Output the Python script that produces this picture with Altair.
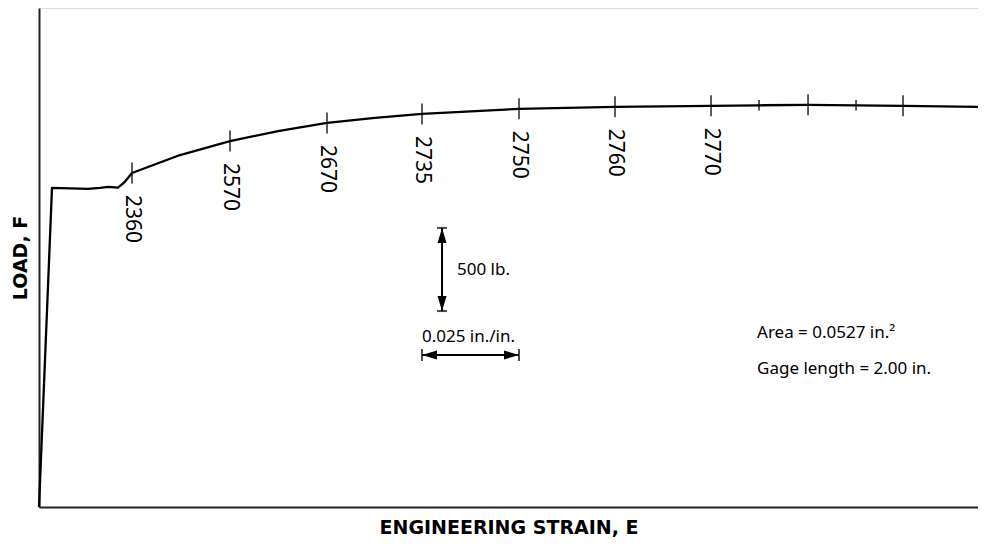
import altair as alt
import pandas as pd

# --- load / strain curve (strain in in./in., load in lb) ---
curve_strain = [0.0, 0.00335, 0.01263, 0.01572, 0.01778, 0.02036, 0.02191, 0.02397,
                0.03634, 0.04923, 0.06160, 0.07423, 0.08660, 0.09871, 0.12371, 0.14845,
                0.17320, 0.18557, 0.19820, 0.21057, 0.22268, 0.24201]
curve_load = [0, 1918, 1912, 1918, 1924, 1920, 1950, 2008,
              2116, 2200, 2260, 2309, 2339, 2363, 2394, 2406,
              2412, 2415, 2418, 2415, 2412, 2406]

# --- marks along the curve ---
tick_strain = [0.02397, 0.04923, 0.07423, 0.09871, 0.12371, 0.14845, 0.17320,
               0.18557, 0.19820, 0.21057, 0.22268]
tick_load = [2008, 2200, 2309, 2363, 2394, 2406, 2412, 2415, 2418, 2415, 2412]
tick_kind = ["major"] * 7 + ["minor", "major", "minor", "major"]
tick_labels = ["2360", "2570", "2670", "2735", "2750", "2760", "2770", "", "", "", ""]

# --- scale bars ---
load_bar_strain = [0.10387]
load_bar_low = [1178]
load_bar_high = [1678]          # 500 lb
strain_bar_load = [914]
strain_bar_low = [0.0987]
strain_bar_high = [0.1237]      # 0.025 in./in.

# --- annotations ---
note_text = ["500 lb.", "0.025 in./in.", "Area = 0.0527 in.²", "Gage length = 2.00 in."]
note_strain = [0.10773, 0.0987, 0.18505, 0.18505]
note_load = [1425, 1022, 1045, 830]

X_DOMAIN = [0, 0.242]
Y_DOMAIN = [0, 3000]

x_axis = alt.Axis(title="ENGINEERING STRAIN, E", ticks=False, labels=False, grid=False,
                  domainColor="#222222", domainWidth=2, titleFont="DejaVu Sans",
                  titleFontSize=19, titleFontWeight="bold", titleColor="black",
                  titlePadding=11)
y_axis = alt.Axis(title="LOAD, F", ticks=False, labels=False, grid=False,
                  domainColor="#222222", domainWidth=2, titleFont="DejaVu Sans",
                  titleFontSize=19, titleFontWeight="bold", titleColor="black",
                  titlePadding=9)


def X(f):
    return alt.X(f, type="quantitative", scale=alt.Scale(domain=X_DOMAIN, nice=False), axis=x_axis)


def Y(f):
    return alt.Y(f, type="quantitative", scale=alt.Scale(domain=Y_DOMAIN, nice=False), axis=y_axis)


curve_df = pd.DataFrame({"s": curve_strain, "l": curve_load, "i": range(len(curve_strain))})
tick_df = pd.DataFrame({"s": tick_strain, "l": tick_load, "kind": tick_kind, "lab": tick_labels})
lbar_df = pd.DataFrame({"s": load_bar_strain, "l0": load_bar_low, "l1": load_bar_high})
sbar_df = pd.DataFrame({"l": strain_bar_load, "s0": strain_bar_low, "s1": strain_bar_high})
note_df = pd.DataFrame({"t": note_text, "s": note_strain, "l": note_load})

curve = alt.Chart(curve_df).mark_line(color="black", strokeWidth=2.3, strokeJoin="round").encode(
    x=X("s"), y=Y("l"), order="i:Q")

major = alt.Chart(tick_df).transform_filter(alt.datum.kind == "major").mark_point(
    shape="M0,-1L0,1", size=441, color="black", strokeWidth=1.8, filled=False).encode(x=X("s"), y=Y("l"))
minor = alt.Chart(tick_df).transform_filter(alt.datum.kind == "minor").mark_point(
    shape="M0,-1L0,1", size=110, color="black", strokeWidth=1.8, filled=False).encode(x=X("s"), y=Y("l"))

labels = alt.Chart(tick_df).transform_filter(alt.datum.lab != "").mark_text(
    angle=90, align="left", baseline="middle", dx=22, font="Noto Sans", fontSize=21,
    color="black").encode(x=X("s"), y=Y("l"), text="lab:N")

lbar = alt.Chart(lbar_df).mark_rule(color="black", strokeWidth=2).encode(x=X("s"), y=Y("l0"), y2="l1")
lcap_lo = alt.Chart(lbar_df).mark_point(shape="M-1,0L1,0", size=100, color="black", strokeWidth=2).encode(
    x=X("s"), y=Y("l0"))
lcap_hi = alt.Chart(lbar_df).mark_point(shape="M-1,0L1,0", size=100, color="black", strokeWidth=2).encode(
    x=X("s"), y=Y("l1"))
larr_up = alt.Chart(lbar_df).mark_point(shape="M0,0L-0.3,1L0.3,1Z", size=900, color="black",
                                        filled=True, opacity=1).encode(x=X("s"), y=Y("l1"))
larr_dn = alt.Chart(lbar_df).mark_point(shape="M0,0L-0.3,-1L0.3,-1Z", size=900, color="black",
                                        filled=True, opacity=1).encode(x=X("s"), y=Y("l0"))

sbar = alt.Chart(sbar_df).mark_rule(color="black", strokeWidth=2).encode(x=X("s0"), x2="s1", y=Y("l"))
scap_lo = alt.Chart(sbar_df).mark_point(shape="M0,-1L0,1", size=144, color="black", strokeWidth=2).encode(
    x=X("s0"), y=Y("l"))
scap_hi = alt.Chart(sbar_df).mark_point(shape="M0,-1L0,1", size=144, color="black", strokeWidth=2).encode(
    x=X("s1"), y=Y("l"))
sarr_l = alt.Chart(sbar_df).mark_point(shape="M0,0L1,-0.3L1,0.3Z", size=900, color="black",
                                       filled=True, opacity=1).encode(x=X("s0"), y=Y("l"))
sarr_r = alt.Chart(sbar_df).mark_point(shape="M0,0L-1,-0.3L-1,0.3Z", size=900, color="black",
                                       filled=True, opacity=1).encode(x=X("s1"), y=Y("l"))

notes = alt.Chart(note_df).mark_text(align="left", baseline="middle", font="Noto Sans", fontSize=17,
                                     color="black").encode(x=X("s"), y=Y("l"), text="t:N")

chart = alt.layer(curve, major, minor, labels, lbar, lcap_lo, lcap_hi, larr_up, larr_dn,
                  sbar, scap_lo, scap_hi, sarr_l, sarr_r, notes).properties(
    width=939, height=499,
    autosize=alt.AutoSizeParams(type="none"),
    padding={"left": 31, "top": 0, "right": 0, "bottom": 33},
).configure_view(stroke=None).configure(background="white")

chart.save("out.html", embed_options={"renderer": "svg", "actions": False})
